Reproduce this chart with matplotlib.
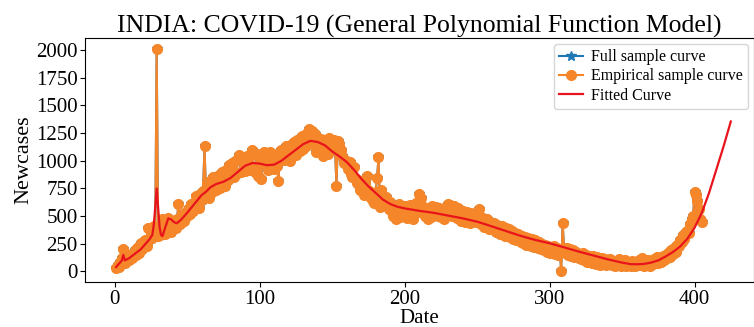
import matplotlib
matplotlib.use("Agg")
import matplotlib.pyplot as plt
import numpy as np

# Empirical daily new cases, days 1..405
cases = [
    30, 60, 40, 90, 120, 200, 80, 110, 140, 100,
    150, 120, 170, 190, 150, 220, 170, 260, 200, 250,
    280, 230, 390, 290, 350, 300, 410, 340, 2010, 320,
    330, 400, 470, 380, 340, 440, 480, 400, 360, 450,
    420, 390, 470, 610, 430, 490, 520, 460, 540, 500,
    570, 520, 610, 550, 620, 680, 600, 570, 700, 650,
    730, 1130, 690, 800, 660, 820, 720, 850, 760, 740,
    830, 870, 750, 900, 800, 770, 920, 830, 960, 860,
    980, 850, 1000, 880, 1010, 1050, 900, 1020, 990, 910,
    1040, 1000, 920, 1050, 1096, 940, 900, 1060, 860, 990,
    835, 1030, 1080, 1060, 950, 920, 1080, 980, 1060, 930,
    1040, 950, 815, 1050, 1100, 1080, 1010, 1130, 1030, 1100,
    1000, 1150, 1080, 1170, 1050, 1190, 1120, 1090, 1220, 1110,
    1200, 1130, 1250, 1290, 1180, 1270, 1150, 1240, 1080, 1210,
    1120, 1200, 1100, 1040, 1120, 1170, 1060, 1210, 1150, 1110,
    1190, 1120, 776, 1176, 1150, 1100, 1040, 980, 1010, 960,
    930, 990, 880, 850, 940, 840, 800, 830, 740, 800,
    720, 690, 800, 860, 740, 700, 660, 640, 620, 720,
    840, 1034, 584, 740, 680, 620, 670, 600, 560, 630,
    540, 500, 590, 470, 550, 610, 490, 570, 510, 590,
    530, 480, 560, 600, 500, 470, 570, 620, 540, 702,
    660, 590, 560, 500, 570, 470, 550, 490, 590, 550,
    510, 580, 500, 570, 490, 560, 470, 540, 590, 610,
    600, 550, 500, 590, 530, 480, 570, 500, 460, 550,
    500, 450, 540, 480, 440, 530, 460, 510, 450, 530,
    560, 470, 430, 480, 400, 450, 470, 380, 450, 400,
    380, 440, 360, 420, 370, 340, 410, 350, 320, 390,
    330, 380, 310, 370, 290, 350, 280, 340, 300, 270,
    320, 260, 310, 240, 300, 250, 230, 290, 220, 280,
    240, 210, 270, 200, 250, 190, 240, 180, 230, 170,
    220, 170, 230, 160, 210, 150, 200, 6, 435, 210,
    170, 210, 150, 200, 140, 190, 130, 180, 150, 120,
    160, 110, 170, 100, 150, 90, 140, 110, 80, 140,
    100, 70, 130, 90, 60, 120, 80, 110, 55, 100,
    70, 110, 55, 95, 50, 90, 60, 110, 50, 85,
    55, 100, 45, 90, 70, 50, 95, 60, 45, 90,
    60, 100, 55, 120, 45, 90, 60, 105, 50, 95,
    70, 110, 80, 130, 75, 120, 85, 140, 100, 150,
    120, 170, 130, 190, 160, 210, 180, 240, 230, 280,
    270, 330, 290, 360, 370, 350, 430, 470, 500, 720,
    690, 640, 560, 470, 450,
]
days = np.arange(1, len(cases) + 1)

# Fitted curve (read at selected days)
fit_days = [1, 3, 5, 6, 7, 10, 13, 15, 18, 20, 22, 24, 26, 27, 28, 29, 30, 31, 32, 33,
            35, 37, 39, 41, 43, 46, 50, 55, 60, 63, 66, 70, 75, 80, 85, 90, 95, 100,
            105, 110, 115, 120, 125, 130, 135, 140, 145, 150, 155, 160, 165, 170,
            175, 180, 185, 190, 195, 200, 210, 220, 230, 240, 250, 257, 260, 270,
            280, 290, 300, 310, 320, 330, 340, 350, 356, 360, 365, 370, 375, 380,
            385, 390, 395, 400, 405, 410, 415, 420, 425]
fit_vals = [40, 70, 100, 150, 100, 120, 150, 170, 200, 230, 260, 290, 330, 420, 580, 750, 580, 400, 330, 320,
            400, 480, 470, 445, 436, 470, 530, 610, 690, 720, 760, 790, 810, 845, 900, 955, 980, 975,
            960, 965, 1000, 1050, 1100, 1150, 1180, 1170, 1140, 1085, 1040, 990, 920, 840,
            770, 710, 650, 610, 585, 570, 548, 530, 505, 480, 450, 421, 408, 365,
            322, 285, 255, 218, 180, 145, 110, 80, 66, 65, 68, 80, 100, 135,
            175, 225, 295, 395, 530, 710, 920, 1130, 1355]

plt.rcParams['font.family'] = ['Liberation Serif', 'DejaVu Serif']

fig = plt.figure(figsize=(7.54, 3.27), dpi=100)
ax = fig.add_axes([0.113, 0.138, 0.887, 0.746])

ax.plot(days, cases, color='#1f77b4', marker='*', markersize=7, linewidth=1.5,
        label='Full sample curve')
ax.plot(days, cases, color='#f5862a', marker='o', markersize=7, linewidth=1.5,
        label='Empirical sample curve')
ax.plot(fit_days, fit_vals, color='#e8141c', linewidth=1.6, label='Fitted Curve')

ax.set_xlim(-20.3, 441)
ax.set_ylim(-94, 2110)
ax.set_xticks([0, 100, 200, 300, 400])
ax.set_yticks(range(0, 2001, 250))
ax.tick_params(labelsize=15, pad=2)
ax.set_xlabel('Date', fontsize=15, labelpad=0)
ax.set_ylabel('Newcases', fontsize=16, labelpad=2)
ax.set_title('INDIA: COVID-19 (General Polynomial Function Model)', fontsize=18.5, pad=4)
ax.legend(loc='upper right', fontsize=11.5, handlelength=1.5, handletextpad=0.5,
          borderaxespad=0.35, labelspacing=0.2, borderpad=0.35)

fig.savefig('out.png', dpi=100)
